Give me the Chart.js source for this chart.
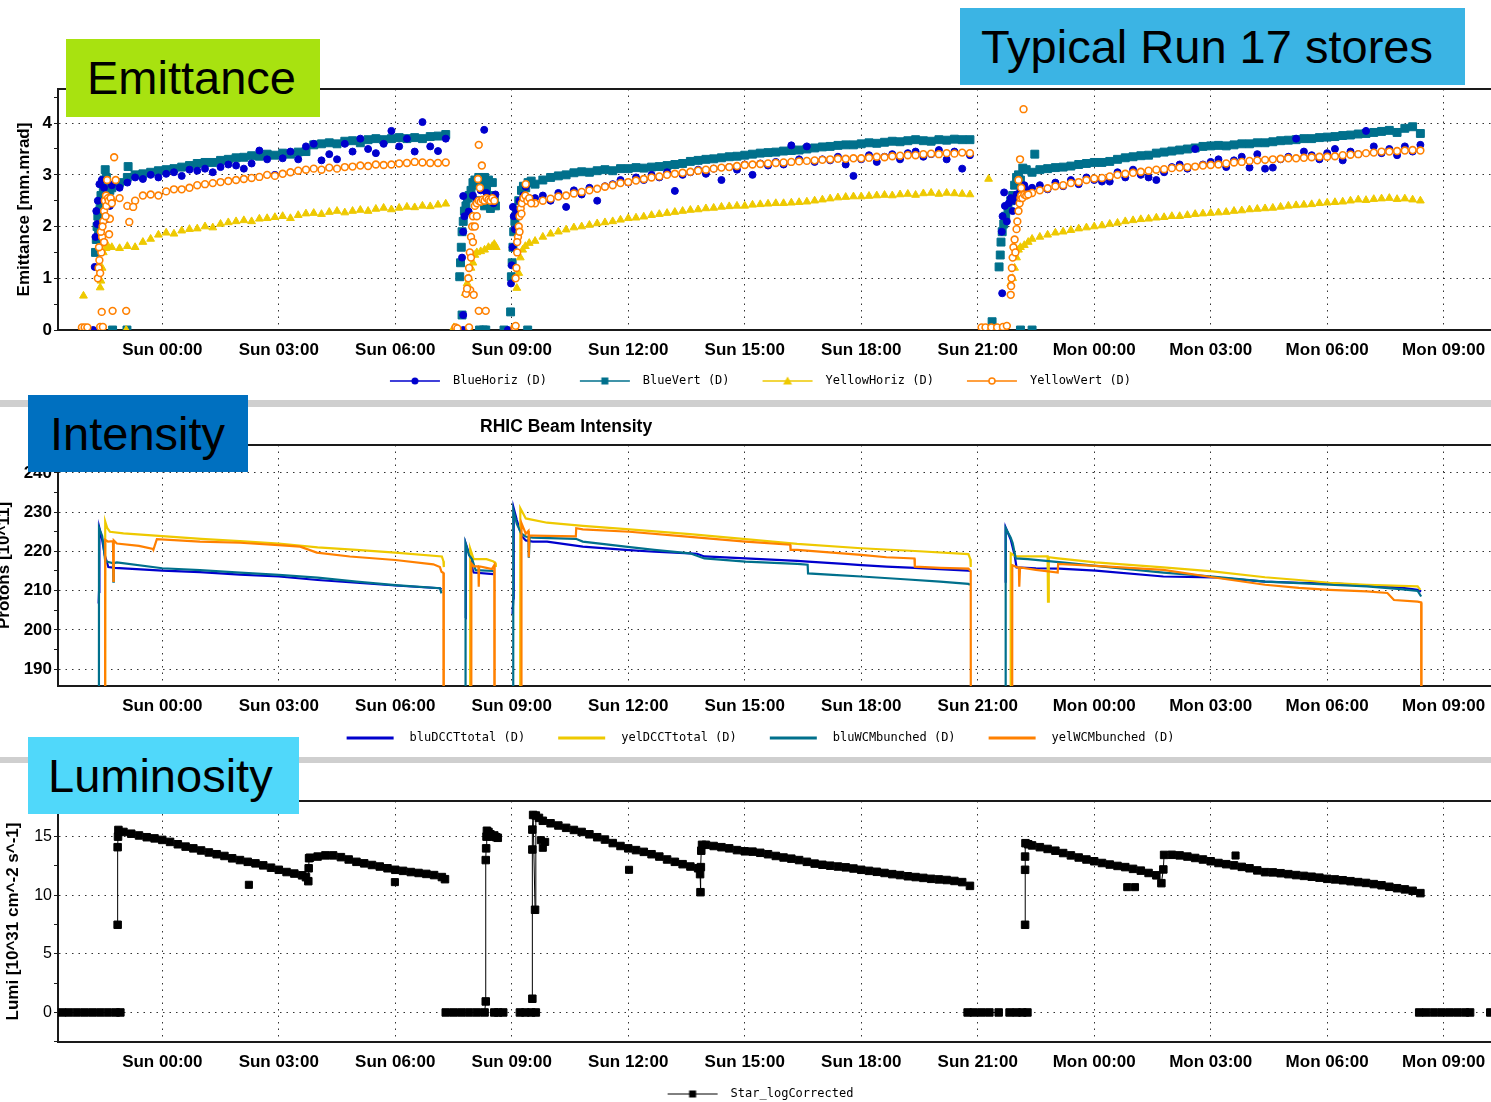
<!DOCTYPE html>
<html><head><meta charset="utf-8">
<script src="https://cdn.jsdelivr.net/npm/chart.js@4.4.1/dist/chart.umd.min.js"></script>
<style>
html,body{margin:0;padding:0;background:#fff;width:1491px;height:1102px;overflow:hidden;position:relative;}
canvas{position:absolute;left:0;}
.bar{position:absolute;left:0;width:1491px;background:#cfcfcf;}
.box{position:absolute;color:#000;font-family:"Liberation Sans",Arial,sans-serif;font-size:47px;white-space:nowrap;box-sizing:border-box;}
#t2{position:absolute;left:480px;top:416px;font-family:"Liberation Sans",Arial,sans-serif;font-weight:bold;font-size:17.5px;line-height:20px;color:#000;white-space:nowrap;}
</style></head><body>
<canvas id="c1" width="1502" height="320" style="top:80px"></canvas>
<canvas id="c2" width="1502" height="346" style="top:410px"></canvas>
<canvas id="c3" width="1502" height="346" style="top:766px"></canvas>
<div class="bar" style="top:400px;height:7px"></div>
<div class="bar" style="top:757px;height:6px"></div>
<div id="t2">RHIC Beam Intensity</div>
<div class="box" style="left:960px;top:8px;width:505px;height:77px;line-height:77px;padding-left:21px;background:#3bb4e4;">Typical Run 17 stores</div>
<div class="box" style="left:66px;top:39px;width:254px;height:78px;line-height:78px;padding-left:21px;background:#a8e210;">Emittance</div>
<div class="box" style="left:28px;top:395px;width:220px;height:77px;line-height:77px;padding-left:22px;background:#0070c0;">Intensity</div>
<div class="box" style="left:28px;top:737px;width:271px;height:77px;line-height:77px;padding-left:20px;background:#50d8fa;">Luminosity</div>
<script>
// ---------------- shared axis data ----------------
const TICK_HOURS = [0, 3, 6, 9, 12, 15, 18, 21, 24, 27, 30, 33];
const TICK_LABELS = ['Sun 00:00','Sun 03:00','Sun 06:00','Sun 09:00','Sun 12:00','Sun 15:00','Sun 18:00','Sun 21:00','Mon 00:00','Mon 03:00','Mon 06:00','Mon 09:00'];
const X_MIN = -2.686, X_MAX = 34.502;           // hours from Sun 00:00
const SAMPLE_STEP_H = 0.2;                        // logger sample interval of the regular arrays

// ---------------- Emittance (mm.mrad) ----------------
const EMIT_Y_TICKS = [0, 0.5, 1, 1.5, 2, 2.5, 3, 3.5, 4, 4.5];
const EMIT_Y_LABELED = [0, 1, 2, 3, 4];
const EMIT_S1_START = -1.3, EMIT_S3_START = 9.6, EMIT_S4_START = 22.4;

const blueHorizS1 = [2.8,2.75,2.85,2.95,2.92,3.0,2.95,3.02,3.05,2.98,3.1,3.08,3.12,3.05,3.15,3.2,3.18,3.12,3.22,3.47,3.3,3.0,3.32,3.45,3.3,3.55,3.6,3.28,3.4,3.3,3.6,3.45,3.7,3.5,3.42,3.6,3.85,3.55,3.7,3.45,4.02,3.55,3.46,3.7];
const blueVertS1 = [2.75,2.85,2.95,3.0,3.02,3.05,3.08,3.1,3.12,3.15,3.18,3.22,3.24,3.24,3.28,3.3,3.33,3.34,3.37,3.36,3.4,3.38,3.42,3.4,3.44,3.45,3.58,3.6,3.62,3.6,3.65,3.66,3.62,3.68,3.7,3.68,3.7,3.72,3.7,3.72,3.7,3.74,3.75,3.78];
const yellowHorizS1 = [1.6,1.58,1.62,1.6,1.7,1.76,1.84,1.88,1.86,1.92,1.95,1.96,2.0,1.98,2.05,2.08,2.1,2.12,2.1,2.15,2.16,2.18,2.2,2.16,2.22,2.25,2.26,2.24,2.28,2.3,2.27,2.3,2.32,2.3,2.34,2.36,2.33,2.36,2.38,2.37,2.4,2.39,2.42,2.44];
const yellowVertS1 = [2.5,2.55,2.4,2.5,2.6,2.62,2.6,2.68,2.72,2.72,2.75,2.8,2.82,2.84,2.86,2.88,2.9,2.92,2.94,2.96,3.0,2.98,3.02,3.05,3.08,3.1,3.12,3.1,3.14,3.12,3.15,3.16,3.18,3.17,3.2,3.19,3.2,3.22,3.23,3.25,3.24,3.23,3.23,3.24];

const blueHorizS3 = [2.55,2.6,2.5,2.65,2.38,2.7,2.62,2.75,2.5,2.78,2.82,2.9,2.85,2.95,2.9,3.0,2.95,3.05,2.69,3.0,3.05,3.1,3.02,3.12,2.9,3.15,3.1,3.2,3.0,3.22,3.18,3.25,3.2,3.57,3.3,3.55,3.25,3.3,3.28,3.35,3.2,2.98,3.3,3.38,3.25,3.35,3.4,3.3,3.42,3.45,3.35,3.4,3.48,3.3,3.45,3.12,3.38];
const blueVertS3 = [2.82,2.9,2.95,2.98,3.0,3.04,3.06,3.05,3.08,3.1,3.08,3.12,3.12,3.14,3.13,3.15,3.16,3.18,3.2,3.22,3.26,3.28,3.3,3.31,3.33,3.35,3.36,3.38,3.4,3.42,3.43,3.44,3.46,3.47,3.48,3.5,3.52,3.54,3.55,3.57,3.58,3.58,3.6,3.62,3.61,3.63,3.65,3.64,3.66,3.68,3.66,3.65,3.68,3.67,3.69,3.68,3.68];
const yellowHorizS3 = [1.72,1.8,1.86,1.9,1.94,1.98,2.0,2.03,2.06,2.08,2.1,2.13,2.16,2.17,2.19,2.22,2.24,2.26,2.28,2.3,2.32,2.33,2.35,2.36,2.38,2.39,2.4,2.4,2.42,2.43,2.44,2.45,2.45,2.46,2.47,2.48,2.5,2.52,2.54,2.56,2.57,2.58,2.58,2.59,2.6,2.61,2.6,2.62,2.63,2.61,2.64,2.65,2.63,2.65,2.64,2.63,2.62];
const yellowVertS3 = [2.45,2.5,2.54,2.58,2.6,2.64,2.67,2.7,2.73,2.77,2.8,2.84,2.86,2.89,2.92,2.95,2.97,3.0,3.02,3.04,3.06,3.08,3.1,3.12,3.14,3.15,3.17,3.19,3.2,3.21,3.22,3.23,3.24,3.25,3.26,3.27,3.28,3.29,3.3,3.31,3.31,3.32,3.32,3.33,3.35,3.34,3.36,3.37,3.38,3.38,3.4,3.41,3.4,3.42,3.41,3.43,3.42];

const blueHorizS4 = [2.75,2.8,2.72,2.85,2.78,2.9,2.82,2.95,2.9,2.87,2.87,3.05,2.95,3.1,3.0,2.95,2.9,3.05,3.15,3.2,3.12,3.5,3.2,3.25,3.3,3.15,3.28,3.35,3.14,3.4,3.12,3.14,3.3,3.35,3.7,3.45,3.38,3.3,3.42,3.5,3.28,3.45,3.4,3.85,3.55,3.42,3.5,3.38,3.55,3.45,3.58];
const blueVertS4 = [3.05,3.1,3.12,3.14,3.15,3.17,3.2,3.22,3.24,3.24,3.26,3.3,3.33,3.35,3.37,3.38,3.42,3.44,3.46,3.48,3.5,3.52,3.55,3.56,3.57,3.56,3.58,3.6,3.6,3.62,3.62,3.64,3.66,3.67,3.68,3.7,3.7,3.72,3.73,3.74,3.76,3.77,3.79,3.8,3.82,3.84,3.86,3.82,3.9,3.93,3.8];
const yellowHorizS4 = [1.76,1.8,1.84,1.88,1.9,1.93,1.96,1.98,2.0,2.02,2.05,2.07,2.1,2.12,2.14,2.15,2.17,2.18,2.2,2.2,2.22,2.24,2.25,2.26,2.27,2.28,2.3,2.31,2.33,2.34,2.35,2.36,2.38,2.4,2.41,2.42,2.43,2.45,2.46,2.47,2.48,2.5,2.52,2.51,2.53,2.54,2.55,2.53,2.54,2.52,2.5];
const yellowVertS4 = [2.65,2.7,2.74,2.78,2.8,2.84,2.86,2.9,2.93,2.94,2.97,3.0,3.02,3.04,3.06,3.08,3.1,3.11,3.13,3.14,3.15,3.16,3.18,3.19,3.2,3.22,3.24,3.25,3.27,3.28,3.29,3.3,3.31,3.32,3.32,3.33,3.34,3.35,3.35,3.36,3.38,3.39,3.4,3.42,3.43,3.45,3.45,3.46,3.47,3.48,3.47];

// irregular samples (injection ramps, outliers, zero readings): [hour, value]
const blueHorizExtra = [[-1.78,0],[-1.74,1.22],[-1.72,1.8],[-1.7,2.3],[-1.68,2.05],[-1.66,2.5],[-1.62,2.82],[-1.56,2.9],[-1.5,2.75],[-1.45,2.6],[-1.4,2.15],[-1.35,2.4],
 [7.75,0],[7.75,0.29],[7.72,1.4],[7.75,1.9],[7.78,2.2],[7.75,2.59],[7.89,2.29],[8.0,2.6],[8.1,2.5],[8.2,2.7],[8.29,3.87],[8.35,2.65],[8.45,2.55],[8.53,2.45],[8.58,2.62],
 [8.9,0],[8.98,0.9],[9.0,1.25],[9.02,1.6],[9.03,2.38],[9.05,2.2],[9.08,1.95],[9.12,2.3],[9.2,2.5],[9.3,2.6],[9.36,2.77],[9.45,2.55],
 [21.63,0],[21.63,0.71],[21.62,1.9],[21.64,2.2],[21.68,2.66],[21.7,2.4],[21.75,2.1],[21.8,2.45],[21.85,2.55],[21.9,2.3],[21.95,2.5],[22.0,2.62],[22.1,2.7],[22.2,2.8],[22.3,2.7]];
const blueVertExtra = [[-1.28,0],[-0.91,0],[-1.72,1.5],[-1.7,1.75],[-1.68,2.0],[-1.66,2.2],[-1.64,1.85],[-1.62,2.3],[-1.6,2.45],[-1.58,2.6],[-1.55,2.5],[-1.52,2.7],[-1.5,2.9],[-1.47,3.1],[-1.44,2.95],[-1.4,2.8],[-1.35,2.7],[-0.88,3.16],
 [7.72,0.29],[8.17,0],[8.27,0],[8.33,0],[7.66,1.03],[7.68,1.3],[7.7,1.6],[7.72,1.9],[7.75,2.1],[7.78,2.3],[7.82,2.4],[7.86,2.55],[7.9,2.6],[7.95,2.7],[8.0,2.85],[8.05,2.9],[8.1,2.8],[8.15,2.95],[8.2,2.9],[8.25,2.85],[8.3,2.95],[8.35,2.75],[8.4,2.9],[8.45,2.6],[8.5,2.85],[8.55,2.5],[8.58,2.4],[8.1,2.5],[8.3,2.4],[8.45,2.35],
 [8.8,0],[8.97,0.35],[9.41,0],[8.99,1.03],[9.01,1.3],[9.03,1.6],[9.05,1.9],[9.08,2.1],[9.12,2.3],[9.18,2.5],[9.25,2.7],[9.3,2.78],[9.36,2.75],[9.42,2.85],[9.5,2.88],
 [21.37,0.16],[22.1,0],[22.4,0],[21.55,1.22],[21.58,1.45],[21.6,1.7],[21.63,1.9],[21.67,2.05],[21.72,2.2],[21.78,2.35],[21.85,2.5],[21.9,2.6],[21.95,2.8],[22.0,2.95],[22.05,3.0],[22.1,2.9],[22.16,3.13],[22.25,3.1],[22.47,3.4]];
const yellowHorizExtra = [[-2.03,0.66],[-0.93,0],[-1.6,0.82],[-1.58,0.95],[-1.55,1.2],[-1.52,1.5],[-1.5,1.65],[-1.45,1.58],[-1.4,1.62],
 [7.51,0.05],[7.8,0.71],[7.85,0.9],[7.9,1.0],[7.95,1.2],[8.0,1.3],[8.05,1.45],[8.1,1.5],[8.2,1.52],[8.3,1.55],[8.4,1.6],[8.5,1.62],[8.55,1.66],[8.6,1.6],
 [9.13,0.81],[9.18,1.1],[9.22,1.4],[9.28,1.55],[9.35,1.62],[9.45,1.68],
 [21.1,0],[21.28,2.92],[21.85,0.9],[21.9,1.0],[21.95,1.2],[22.0,1.4],[22.05,1.55],[22.1,1.6],[22.2,1.64],[22.3,1.7]];
const yellowVertExtra = [[-2.07,0.05],[-2.0,0.05],[-1.93,0.05],[-1.6,0.06],[-1.53,0.06],[-1.56,0.35],[-1.28,0.37],[-0.93,0.37],
 [-1.66,1.0],[-1.64,1.2],[-1.62,1.35],[-1.6,1.1],[-1.57,1.5],[-1.55,1.8],[-1.52,2.1],[-1.5,2.3],[-1.48,2.5],[-1.45,2.6],[-1.42,2.9],[-1.4,2.55],[-1.37,1.85],[-1.35,2.15],[-1.24,3.34],[-1.2,2.9],[-0.85,2.09],[-0.75,2.38],
 [-1.63,1.6],[-1.58,1.9],[-1.54,2.0],[-1.5,1.7],[-1.46,2.2],[-1.44,2.4],[-1.38,2.5],[-1.33,2.55],[-1.3,2.45],
 [7.55,0.05],[7.6,0.03],[7.9,0.05],[8.15,0.37],[8.33,0.37],[7.93,0.77],[8.02,0.68],[7.82,0.7],[7.85,0.8],[7.88,1.0],[7.9,1.2],[7.92,1.5],[7.95,1.8],[7.98,2.0],[8.0,2.2],[8.05,2.4],[8.1,2.45],[8.15,2.5],[8.2,2.48],[8.25,2.52],[8.3,2.5],[8.35,2.55],[8.4,2.52],[8.45,2.5],[8.5,2.55],[8.55,2.5],[8.15,3.58],[8.23,3.18],[8.13,2.92],[8.18,2.75],[7.95,1.4],[8.0,1.7],[8.05,2.0],[8.1,2.2],
 [9.07,0.05],[9.1,0.08],[9.1,1.0],[9.12,1.2],[9.14,1.5],[9.16,1.8],[9.18,2.0],[9.2,2.2],[9.23,2.35],[9.26,2.45],[9.3,2.55],[9.35,2.6],[9.4,2.5],[9.45,2.55],[9.5,2.45],[9.36,2.82],[9.14,1.7],[9.2,1.9],[9.25,2.25],
 [21.1,0.05],[21.2,0.05],[21.35,0.05],[21.5,0.05],[21.65,0.06],[21.75,0.08],[21.85,0.68],[21.86,0.85],[21.87,1.0],[21.88,1.2],[21.9,1.4],[21.92,1.6],[21.95,1.75],[21.97,1.5],[22.0,1.95],[22.02,2.1],[22.05,2.3],[22.08,2.45],[22.1,2.55],[22.12,2.6],[22.15,2.55],[22.2,2.62],[22.25,2.6],[22.3,2.62],[22.09,3.3],[22.18,4.27],[22.05,2.9],[22.12,2.75]];

// ---------------- Intensity (10^11 protons) ----------------
const INT_Y_TICKS = [190, 195, 200, 205, 210, 215, 220, 225, 230, 235, 240, 245];
const INT_Y_LABELED = [190, 200, 210, 220, 230, 240];
const bluDCCTtotal = [[-1.64,206.7],[-1.63,209.7],[-1.62,225.9],[-1.55,223],[-1.48,219],[-1.39,216],[-1.22,215.8],[0,215.1],[0.97,214.7],[2,214.1],[3,213.6],[4,212.7],[5,212.0],[6,211.3],[7.15,210.6],[7.19,210.3],null,
 [7.8,203],[7.81,207.6],[7.82,222.0],[7.88,220],[7.93,218.8],[8.0,215],[8.02,214.6],[8.53,214.2],null,
 [9.02,204],[9.04,208],[9.05,231.0],[9.13,228],[9.25,224],[9.36,222.8],[9.54,222.5],[9.91,222.5],[10.83,221.2],[11.93,220.4],[12.67,219.9],[13.59,219.5],[13.77,219.4],[13.96,218.7],[15.02,218.2],[16.35,217.6],[16.63,217.4],[17.55,216.8],[18.0,216.5],[18.65,216.1],[19.38,215.8],[20.76,215.1],[20.81,215.0],null,
 [21.72,212],[21.72,226.1],[21.85,223],[21.95,219],[22.0,215.9],[22.5,215.7],[23.1,215.6],[24.04,215.1],[25.78,213.6],[27.05,213.4],[28.4,212.3],[29.27,212.0],[30.06,211.9],[31.02,211.3],[31.89,210.8],[32.33,210.2],[32.42,209.8]];
const yelDCCTtotal = [[-1.48,0],[-1.47,227.6],[-1.42,226],[-1.35,225.0],[-1.0,224.6],[0,223.9],[1,223.2],[2,222.6],[3,222.0],[4,221.0],[5,220.4],[6,219.7],[7.2,218.7],[7.24,217.5],[7.25,216],null,
 [7.92,0],[7.93,220.7],[8.02,218.0],[8.35,218.0],[8.53,217.4],[8.58,217.0],[8.59,216],null,
 [9.21,0],[9.22,231.0],[9.3,229.5],[9.36,228.4],[9.91,227.3],[10.83,226.5],[12.03,225.6],[13.59,224.4],[15.02,223.1],[16.35,221.9],[18.0,220.8],[19.38,220.1],[20.76,219.3],[20.81,218.0],[20.82,216],null,
 [21.84,0],[21.85,219.5],[21.98,218.7],[22.8,218.7],[22.81,207.2],[22.83,218.5],[23.07,218.2],[24.04,217.2],[25.78,215.9],[27.05,214.9],[28.4,213.4],[29.27,212.7],[30.06,212.0],[31.02,211.5],[31.89,211.2],[32.33,211.1],[32.4,210.2]];
const bluWCMbunched = [[-1.64,0],[-1.63,226],[-1.55,224],[-1.52,222],[-1.47,217.5],[-1.39,217.3],[-1.27,217.0],[-1.26,212.3],[-1.25,217.0],[-1.17,217.2],[0,215.7],[0.97,215.2],[2,214.6],[3,214.0],[4,213.3],[5,212.3],[6,211.4],[7.15,210.6],[7.19,209.3],null,
 [7.8,0],[7.81,222.0],[7.9,219],[7.98,218.0],[8.07,215.2],[8.53,215.0],[8.55,214.5],null,
 [9.03,0],[9.04,230.5],[9.13,227],[9.25,224.5],[9.36,223.8],[9.43,223.6],[9.44,218.4],[9.46,223.6],[9.54,223.5],[10.65,223.2],[10.83,222.5],[11.93,221.2],[12.67,220.4],[13.59,219.5],[13.96,218.2],[15.02,217.4],[16.35,216.8],[16.62,216.6],[16.63,214.4],[17.27,214.0],[18.0,213.6],[19.11,212.9],[20.03,212.3],[20.76,211.7],[20.8,211.5],null,
 [21.71,0],[21.72,225.9],[21.85,223.5],[21.9,222.1],[21.98,218.2],[22.29,218.0],[23.16,217.2],[24.04,216.3],[25.78,214.6],[27.05,213.6],[28.4,212.3],[29.27,211.9],[30.06,211.5],[31.02,211.1],[31.89,210.4],[32.33,209.9],[32.42,208.5]];
const yelWCMbunched = [[-1.48,0],[-1.47,222.9],[-1.4,222.5],[-1.27,222.6],[-1.26,212.5],[-1.25,222.8],[-1.17,222.0],[-0.6,221.4],[-0.24,220.6],[-0.23,220.4],[-0.14,223.1],[0.97,222.5],[2,222.2],[3,221.6],[3.55,221.2],[3.98,219.7],[4.83,218.7],[6,217.8],[6.98,216.7],[7.15,216.0],[7.19,214.8],[7.24,214.5],[7.25,0],null,
 [7.95,0],[7.96,216.9],[8.02,216.2],[8.14,216.2],[8.15,211.0],[8.16,216.2],[8.35,215.8],[8.49,215.5],[8.55,216.5],[8.56,0],null,
 [9.24,0],[9.25,227.2],[9.3,226],[9.36,224.5],[9.43,225.2],[9.44,218.5],[9.45,224.0],[9.54,224.0],[10.65,223.8],[10.66,225.9],[10.83,225.6],[12.03,225.0],[13.59,223.7],[15.02,222.5],[16.17,221.7],[16.18,220.4],[16.35,220.4],[18.0,219.1],[18.65,218.5],[19.37,218.2],[19.38,216.1],[20.03,215.8],[20.76,215.6],[20.82,215.0],[20.83,0],null,
 [21.88,0],[21.89,216.5],[22.0,216.0],[22.06,215.9],[22.07,211.0],[22.09,215.9],[22.5,215.3],[23.06,214.6],[23.07,216.8],[24.04,216.3],[25.78,215.3],[27.05,213.4],[28.4,211.5],[29.27,210.7],[30.06,210.2],[31.02,209.8],[31.55,209.4],[31.72,207.6],[32.33,207.2],[32.42,207.0],[32.43,0]];

// ---------------- Luminosity (10^31 cm^-2 s^-1) ----------------
const LUMI_Y_TICKS = [-2.5, 0, 2.5, 5, 7.5, 10, 12.5, 15, 17.5];
const LUMI_Y_LABELED = [0, 5, 10, 15];
const LUMI_S1A_START = -1.0, LUMI_S1B_START = 3.8, LUMI_S3A_START = 9.8, LUMI_S3B_START = 14.0, LUMI_S4A_START = 22.4, LUMI_S4B_START = 26.0;
const lumiS1a = [15.4,15.25,15.1,14.95,14.85,14.72,14.55,14.35,14.15,14.0,13.82,13.65,13.5,13.35,13.15,13.0,12.85,12.72,12.55,12.35,12.17,11.98,11.85,11.7];
const lumiS1b = [13.2,13.3,13.4,13.4,13.25,13.05,12.85,12.72,12.58,12.45,12.3,12.17,12.08,11.98,11.9,11.82,11.72,11.55];
const lumiS3a = [16.35,16.14,15.95,15.75,15.57,15.4,15.2,14.95,14.75,14.45,14.2,14.0,13.85,13.7,13.5,13.3,13.05,12.85,12.65,12.45,12.3];
const lumiS3b = [14.3,14.2,14.1,14.0,13.85,13.75,13.72,13.62,13.5,13.35,13.22,13.12,13.0,12.85,12.7,12.6,12.52,12.45,12.38,12.28,12.17,12.08,12.0,11.9,11.8,11.72,11.62,11.55,11.48,11.4,11.35,11.3,11.22,11.12,10.8];
const lumiS4a = [14.25,14.1,13.95,13.8,13.6,13.4,13.22,13.05,12.9,12.75,12.62,12.5,12.4,12.25,12.1,11.9,11.7];
const lumiS4b = [13.45,13.4,13.3,13.18,13.05,12.9,12.75,12.65,12.55,12.42,12.3,12.12,11.97,11.95,11.88,11.8,11.72,11.65,11.58,11.5,11.4,11.35,11.28,11.2,11.12,11.05,10.95,10.85,10.72,10.6,10.5,10.38,10.18];
const lumiZeroA = [[-2.58,0],[-2.4,0],[-2.2,0],[-2.0,0],[-1.8,0],[-1.6,0],[-1.4,0],[-1.2,0],[-1.08,0]];
const lumiS1Rise = [[-1.15,7.48],[-1.15,14.1],[-1.14,15.0],[-1.13,15.57]];
const lumiS1Step = [[3.7,11.54],[3.76,11.2],[3.77,12.3],[3.78,13.16]];
const lumiS1End = [[7.28,11.37]];
const lumiS2 = [[7.3,0],[7.5,0],[7.7,0],[7.9,0],[8.1,0],[8.3,0],[8.33,0.94],[8.33,13.0],[8.34,14.0],[8.35,15.0],[8.36,15.5],[8.4,15.4],[8.45,15.2],[8.5,15.0],[8.55,15.1],[8.6,14.95],[8.64,14.9]];
const lumiZeroC = [[8.55,0],[8.65,0],[8.78,0]];
const lumiZeroD = [[9.21,0],[9.35,0],[9.5,0],[9.62,0]];
const lumiS3Rise = [[9.53,1.17],[9.53,13.9],[9.53,15.6],[9.55,16.85],[9.6,8.76],[9.62,16.8],[9.7,16.6]];
const lumiS3Step = [[13.85,11.8],[13.86,10.26],[13.87,12.4],[13.88,13.8],[13.9,14.3]];
const lumiZeroE = [[20.74,0],[20.9,0],[21.1,0],[21.3,0],[21.54,0]];
const lumiZeroF = [[21.82,0],[22.0,0],[22.15,0],[22.28,0]];
const lumiS4Rise = [[22.22,7.48],[22.22,12.17],[22.22,13.3],[22.23,14.44],[22.3,14.35]];
const lumiS4Step = [[25.73,11.03],[25.78,12.2],[25.8,13.44]];
const lumiZeroG = [[32.37,0],[32.55,0],[32.75,0],[32.95,0],[33.15,0],[33.35,0],[33.55,0],[33.68,0]];
const lumiZeroH = [[34.2,0],[34.4,0]];
const lumiIsolated = [[2.23,10.89],[5.99,11.12],[9.75,14.7],[9.8,14.05],[9.86,14.55],[12.02,12.17],[24.85,10.69],[25.05,10.69],[27.64,13.39]];

// ---------------- styling ----------------
const BLUE = '#0000cd', TEAL = '#00708c', YELLOW = '#eec900', ORANGE = '#ff8000';
const GRID = 'rgba(0,0,0,0.8)', AXIS = '#1a1a1a';
const FONT = '"Liberation Sans", Arial, sans-serif';
const ICON_W = 76, ICON_LINE_START = 19;

function sampled(start, values) {
  return values.map((v, i) => ({ x: Math.round((start + i * SAMPLE_STEP_H) * 100) / 100, y: v }));
}
function pairs(list) {
  const out = []; let last = 0;
  for (const p of list) {
    if (p === null) out.push({ x: last, y: null });
    else { out.push({ x: p[0], y: p[1] }); last = p[0]; }
  }
  return out;
}
const GAP = [null];

function makeIcon(color, marker, lineLen, lineW) {
  const c = document.createElement('canvas');
  c.width = ICON_W; c.height = 12;
  const g = c.getContext('2d');
  g.strokeStyle = color; g.lineWidth = lineW;
  g.beginPath(); g.moveTo(ICON_LINE_START, 6); g.lineTo(ICON_LINE_START + lineLen, 6); g.stroke();
  const cx = ICON_LINE_START + lineLen / 2, cy = 6;
  g.fillStyle = color;
  if (marker === 'circle') { g.beginPath(); g.arc(cx, cy, 3.5, 0, Math.PI * 2); g.fill(); }
  else if (marker === 'rect') { g.fillRect(cx - 3.5, cy - 3.5, 7, 7); }
  else if (marker === 'triangle') { g.beginPath(); g.moveTo(cx, cy - 4.5); g.lineTo(cx + 4.5, cy + 3.5); g.lineTo(cx - 4.5, cy + 3.5); g.closePath(); g.fill(); }
  else if (marker === 'ring') { g.fillStyle = '#fff'; g.lineWidth = 1.5; g.beginPath(); g.arc(cx, cy, 3, 0, Math.PI * 2); g.fill(); g.stroke(); }
  return c;
}

function legendOpts(icons) {
  return {
    display: true, position: 'bottom', align: 'center',
    labels: {
      usePointStyle: true, pointStyleWidth: ICON_W, padding: 14, color: '#000',
      font: { family: '"DejaVu Sans Mono", monospace', size: 12 },
      generateLabels: chart => chart.data.datasets.map((ds, i) => icons[i] ? {
        text: ds.label, pointStyle: icons[i], datasetIndex: i, hidden: false,
        fillStyle: ds.borderColor, strokeStyle: ds.borderColor, lineWidth: 0
      } : null).filter(Boolean)
    }
  };
}

function xScale(axisHeight) {
  return {
    type: 'linear', position: 'bottom', min: X_MIN, max: X_MAX,
    afterBuildTicks: s => { s.ticks = TICK_HOURS.map(v => ({ value: v })); },
    afterFit: s => { s.height = axisHeight; s.paddingLeft = 0; s.paddingRight = 0; },
    ticks: { autoSkip: false, maxRotation: 0, minRotation: 0, padding: 10, color: '#000',
      font: { family: FONT, size: 17, weight: 'bold' },
      callback: (v, i) => TICK_LABELS[i] },
    grid: { color: GRID, lineWidth: 1, drawTicks: false },
    border: { display: true, color: AXIS, width: 2, dash: [1.5, 5] }
  };
}

function yScale(o) {
  return {
    type: 'linear', position: 'left', min: o.min, max: o.max,
    afterBuildTicks: s => { s.ticks = o.ticks.map(v => ({ value: v })); },
    afterFit: s => { s.width = 58; s.paddingTop = 0; s.paddingBottom = 0; },
    ticks: { autoSkip: false, padding: 2, color: '#000', font: o.tickFont,
      callback: v => o.labeled.includes(v) ? String(v) : '' },
    grid: { drawTicks: true, tickLength: 4, tickColor: AXIS, tickWidth: 1, lineWidth: 1,
      color: c => (c.tick && o.labeled.includes(c.tick.value) && c.tick.value > o.min + 0.01) ? GRID : 'rgba(0,0,0,0)' },
    border: { display: true, color: AXIS, width: 2, dash: [1.5, 5] },
    title: { display: true, text: o.title, color: '#000',
      font: { family: FONT, size: 17, weight: 'bold', lineHeight: 1 },
      padding: { top: o.titlePad, bottom: 0 } }
  };
}

const topFrame = {
  id: 'topFrame',
  afterDraw(chart) {
    const { ctx, chartArea: a } = chart;
    ctx.save(); ctx.strokeStyle = AXIS; ctx.lineWidth = 2;
    ctx.beginPath(); ctx.moveTo(a.left - 1, a.top); ctx.lineTo(a.right, a.top); ctx.stroke();
    ctx.restore();
  }
};

const common = { responsive: false, animation: false, events: [], plugins: { tooltip: { enabled: false } } };

// ---------- Chart 1: Emittance ----------
const emitIcons = [makeIcon(BLUE, 'circle', 50, 1.5), makeIcon(TEAL, 'rect', 50, 1.5), makeIcon(YELLOW, 'triangle', 50, 1.5), makeIcon(ORANGE, 'ring', 50, 1.5)];
new Chart(document.getElementById('c1'), {
  type: 'line',
  data: { datasets: [
    { label: 'BlueHoriz (D)', order: 3, showLine: false, pointStyle: 'circle', pointRadius: 3.5, pointBorderWidth: 1,
      backgroundColor: BLUE, borderColor: BLUE,
      data: [...sampled(EMIT_S1_START, blueHorizS1), ...sampled(EMIT_S3_START, blueHorizS3), ...sampled(EMIT_S4_START, blueHorizS4), ...pairs(blueHorizExtra)] },
    { label: 'BlueVert (D)', order: 4, showLine: false, pointStyle: 'rect', pointRadius: 5.6, pointBorderWidth: 1,
      backgroundColor: TEAL, borderColor: TEAL,
      data: [...sampled(EMIT_S1_START, blueVertS1), ...sampled(EMIT_S3_START, blueVertS3), ...sampled(EMIT_S4_START, blueVertS4), ...pairs(blueVertExtra)] },
    { label: 'YellowHoriz (D)', order: 2, showLine: false, pointStyle: 'triangle', pointRadius: 4.5, pointBorderWidth: 1,
      backgroundColor: YELLOW, borderColor: YELLOW,
      data: [...sampled(EMIT_S1_START, yellowHorizS1), ...sampled(EMIT_S3_START, yellowHorizS3), ...sampled(EMIT_S4_START, yellowHorizS4), ...pairs(yellowHorizExtra)] },
    { label: 'YellowVert (D)', order: 1, showLine: false, pointStyle: 'circle', pointRadius: 3.4, pointBorderWidth: 1.6,
      backgroundColor: '#ffffff', borderColor: ORANGE,
      data: [...sampled(EMIT_S1_START, yellowVertS1), ...sampled(EMIT_S3_START, yellowVertS3), ...sampled(EMIT_S4_START, yellowVertS4), ...pairs(yellowVertExtra)] }
  ] },
  options: { ...common,
    layout: { autoPadding: false, padding: { top: 9, bottom: 3, left: 0, right: 0 } },
    plugins: { ...common.plugins, legend: legendOpts(emitIcons) },
    scales: {
      x: xScale(31),
      y: yScale({ min: 0, max: 4.66, ticks: EMIT_Y_TICKS, labeled: EMIT_Y_LABELED, title: 'Emittance [mm.mrad]', titlePad: 15.5,
        tickFont: { family: FONT, size: 17, weight: 'bold' } })
    }
  },
  plugins: [topFrame]
});

// ---------- Chart 2: Intensity ----------
const intIcons = [makeIcon(BLUE, null, 47, 3), makeIcon(YELLOW, null, 47, 3), makeIcon(TEAL, null, 47, 3), makeIcon(ORANGE, null, 47, 3)];
const lineDs = (label, color, order, src) => ({ label, order, borderColor: color, backgroundColor: color, borderWidth: 2.2,
  pointRadius: 0, spanGaps: false, tension: 0, data: pairs(src) });
new Chart(document.getElementById('c2'), {
  type: 'line',
  data: { datasets: [
    lineDs('bluDCCTtotal (D)', BLUE, 4, bluDCCTtotal),
    lineDs('yelDCCTtotal (D)', YELLOW, 3, yelDCCTtotal),
    lineDs('bluWCMbunched (D)', TEAL, 2, bluWCMbunched),
    lineDs('yelWCMbunched (D)', ORANGE, 1, yelWCMbunched)
  ] },
  options: { ...common,
    layout: { autoPadding: false, padding: { top: 35, bottom: 2, left: 0, right: 0 } },
    plugins: { ...common.plugins, legend: legendOpts(intIcons) },
    scales: {
      x: xScale(32),
      y: yScale({ min: 185.7, max: 247.1, ticks: INT_Y_TICKS, labeled: INT_Y_LABELED, title: 'Protons [10^11]', titlePad: -4,
        tickFont: { family: FONT, size: 17, weight: 'bold' } })
    }
  },
  plugins: [topFrame]
});

// ---------- Chart 3: Luminosity ----------
const lumiIcons = [makeIcon('#000', 'rect', 50, 1)];
const asPairs = arr => arr.map(p => [p.x, p.y]);
const lumiLine = [
  ...lumiZeroA, ...GAP,
  ...lumiS1Rise, ...asPairs(sampled(LUMI_S1A_START, lumiS1a)), ...lumiS1Step,
  ...asPairs(sampled(LUMI_S1B_START, lumiS1b)), ...lumiS1End, ...GAP,
  ...lumiS2, ...GAP, ...lumiZeroC, ...GAP, ...lumiZeroD, ...GAP,
  ...lumiS3Rise, ...asPairs(sampled(LUMI_S3A_START, lumiS3a)), ...lumiS3Step,
  ...asPairs(sampled(LUMI_S3B_START, lumiS3b)), ...GAP,
  ...lumiZeroE, ...GAP, ...lumiZeroF, ...GAP,
  ...lumiS4Rise, ...asPairs(sampled(LUMI_S4A_START, lumiS4a)), ...lumiS4Step,
  ...asPairs(sampled(LUMI_S4B_START, lumiS4b)), ...GAP,
  ...lumiZeroG, ...GAP, ...lumiZeroH
];
new Chart(document.getElementById('c3'), {
  type: 'line',
  data: { datasets: [
    { label: 'Star_logCorrected', borderColor: '#000', backgroundColor: '#000', borderWidth: 1,
      pointStyle: 'rect', pointRadius: 5.3, pointBorderWidth: 1, spanGaps: false, tension: 0, data: pairs(lumiLine) },
    { label: 'Star_logCorrected isolated', borderColor: '#000', backgroundColor: '#000', showLine: false,
      pointStyle: 'rect', pointRadius: 5.0, pointBorderWidth: 1, data: pairs(lumiIsolated) }
  ] },
  options: { ...common,
    layout: { autoPadding: false, padding: { top: 35, bottom: 2, left: 0, right: 0 } },
    plugins: { ...common.plugins, legend: legendOpts(lumiIcons) },
    scales: {
      x: xScale(32),
      y: yScale({ min: -2.52, max: 18.04, ticks: LUMI_Y_TICKS, labeled: LUMI_Y_LABELED, title: 'Lumi [10^31 cm^-2 s^-1]', titlePad: 4.5,
        tickFont: { family: FONT, size: 16, weight: 'normal' } })
    }
  },
  plugins: [topFrame]
});
</script>
</body></html>
